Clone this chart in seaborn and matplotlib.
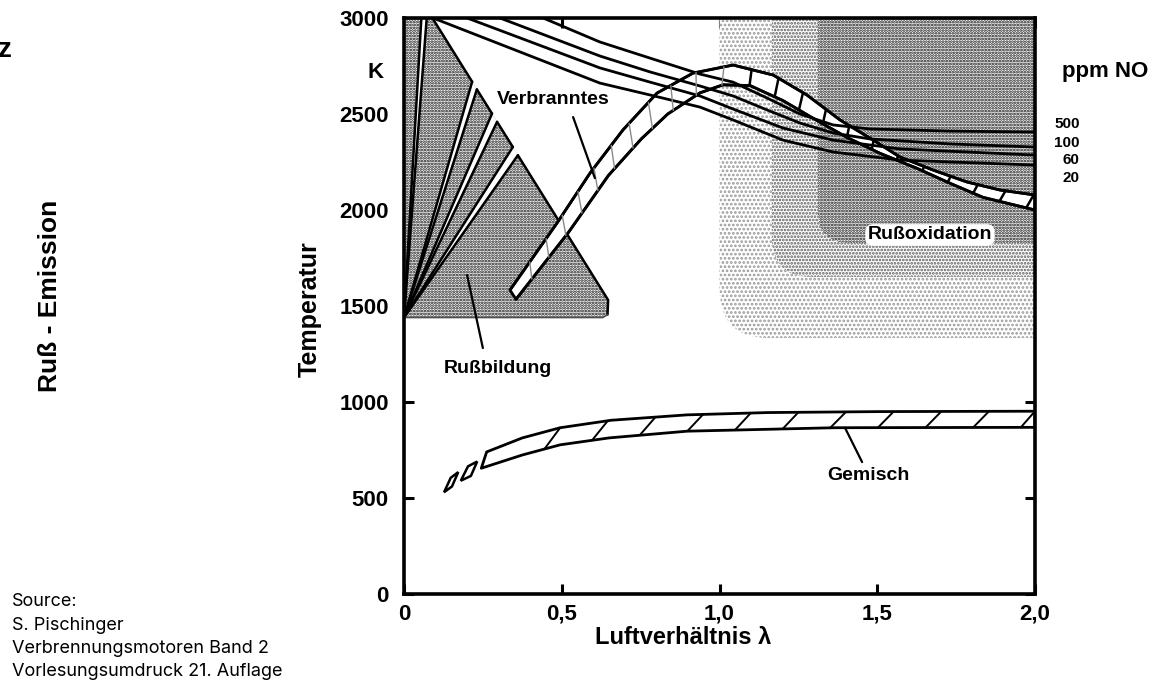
import numpy as np
import pandas as pd
import matplotlib
matplotlib.use("Agg")
import matplotlib.pyplot as plt
from matplotlib.patches import Polygon, FancyBboxPatch
from matplotlib.transforms import blended_transform_factory
import seaborn as sns

# ---------------- data: air ratio lambda (x) vs. temperature in K (y) ----------------
x_ticks = [0, 0.5, 1.0, 1.5, 2.0]
x_tick_labels = ["0", "0,5", "1,0", "1,5", "2,0"]
y_ticks = [0, 500, 1000, 1500, 2000, 2500, 3000]

# NO iso-lines (ppm)
no_labels = ["500", "100", "60", "20"]
no_label_T = [2448, 2349, 2260, 2166]
no500_lam = [0.441, 0.621, 0.780, 0.938, 1.043, 1.151, 1.255, 1.360, 1.477, 1.731, 2.0]
no500_T = [3000, 2875, 2791, 2708, 2666, 2583, 2500, 2443, 2422, 2411, 2406]
no100_lam = [0.304, 0.621, 0.780, 0.938, 1.043, 1.151, 1.255, 1.360, 1.477, 1.731, 2.0]
no100_T = [3000, 2802, 2719, 2646, 2594, 2521, 2453, 2401, 2370, 2344, 2328]
no60_lam = [0.200, 0.621, 0.780, 0.938, 1.043, 1.201, 1.360, 1.572, 2.0]
no60_T = [3000, 2740, 2666, 2594, 2526, 2427, 2364, 2318, 2286]
no20_lam = [0.092, 0.621, 0.780, 0.938, 1.043, 1.201, 1.360, 1.572, 2.0]
no20_T = [3000, 2661, 2599, 2536, 2469, 2364, 2302, 2260, 2234]

# burnt-gas temperature band ("Verbranntes")
burnt_outer_lam = [0.336, 0.485, 0.590, 0.694, 0.802, 0.916, 1.043, 1.170, 1.277,
                   1.382, 1.487, 1.572, 1.677, 1.784, 1.889, 2.0]
burnt_outer_T = [1583, 1932, 2193, 2417, 2609, 2713, 2755, 2703, 2599,
                 2469, 2364, 2276, 2208, 2146, 2104, 2078]
burnt_inner_lam = [0.355, 0.522, 0.648, 0.752, 0.836, 0.938, 1.011, 1.097, 1.201,
                   1.309, 1.404, 1.509, 1.626, 1.731, 1.835, 2.0]
burnt_inner_T = [1535, 1885, 2180, 2370, 2500, 2610, 2652, 2648, 2570,
                 2466, 2378, 2295, 2217, 2139, 2066, 2000]

# mixture temperature band ("Gemisch")
mix_upper_lam = [0.262, 0.375, 0.495, 0.657, 0.897, 1.152, 1.505, 2.0]
mix_upper_T = [740, 813, 866, 905, 933, 945, 950, 952]
mix_lower_lam = [0.245, 0.375, 0.495, 0.650, 0.897, 1.364, 2.0]
mix_lower_T = [655, 724, 777, 813, 848, 866, 868]
mix_cell1_lam = [0.127, 0.148, 0.172, 0.152]
mix_cell1_T = [530, 605, 635, 560]
mix_cell2_lam = [0.180, 0.203, 0.232, 0.212]
mix_cell2_T = [590, 665, 690, 615]

# soot formation zone ("Rußbildung") and its fan of rich-combustion strips
soot_form_lam = [0.0, 0.0, 0.090, 0.647, 0.645, 0.630]
soot_form_T = [1440, 3000, 3000, 1531, 1455, 1440]
fan_origin = (0.0, 1440)
fan_tip_lam = [(0.055, 0.072), (0.216, 0.231), (0.279, 0.295), (0.345, 0.361)]
fan_tip_T = [(3000, 3000), (2668, 2628), (2502, 2459), (2328, 2285)]

# soot oxidation zone ("Rußoxidation"): lower-left corners of the graded zones
ox_lam0 = [1.000, 1.166, 1.312]
ox_T0 = [1333, 1651, 1828]

# ---------------- styling ----------------
sns.set_style("ticks")
plt.rcParams["font.family"] = ["Liberation Sans", "DejaVu Sans"]
plt.rcParams["hatch.linewidth"] = 1.3
plt.rcParams["text.color"] = "black"
plt.rcParams["xtick.color"] = "black"
plt.rcParams["ytick.color"] = "black"
plt.rcParams["axes.labelcolor"] = "black"

PX_LAM = 315.5     # pixels per unit lambda
PX_K = 0.192       # pixels per Kelvin
ASPECT = PX_LAM / PX_K

fig = plt.figure(figsize=(11.72, 7.0), dpi=100)
ax = fig.add_axes([404 / 1172, 1 - 594 / 700, 631 / 1172, 576 / 700])
ax.set_xlim(0, 2.0)
ax.set_ylim(0, 3000)

# graded stipple of the oxidation zone
ox_style = [(50, "....", "#9a9a9a"), (40, ".....", "#5a5a5a"), (32, "......", "#101010")]
for (lam0, T0, (r_px, hatch, col), z) in zip(ox_lam0, ox_T0, ox_style, [1.0, 1.1, 1.2]):
    box = FancyBboxPatch((lam0, T0), 2.5 - lam0, 4200 - T0,
                         boxstyle=f"round,pad=0,rounding_size={r_px / PX_LAM}",
                         mutation_aspect=ASPECT, facecolor="white",
                         edgecolor=col, hatch=hatch, lw=0, zorder=z)
    ax.add_patch(box)

# soot formation zone
ax.add_patch(Polygon(np.column_stack([soot_form_lam, soot_form_T]), closed=True,
                     facecolor="white", edgecolor="#101010", hatch="......", lw=0, zorder=1.5))

# white fan strips from the common origin
for (la, lb), (ta, tb) in zip(fan_tip_lam, fan_tip_T):
    ax.add_patch(Polygon([fan_origin, (la, ta), (lb, tb)], closed=True,
                         facecolor="white", edgecolor="none", zorder=2))
    for lt, tt in [(la, ta), (lb, tb)]:
        ax.plot([fan_origin[0], lt], [fan_origin[1], tt], color="black", lw=1.8,
                zorder=2.2, solid_capstyle="round")

# outline of the soot formation zone, open where the strips leave it
hyp_lam = [soot_form_lam[2], fan_tip_lam[1][0], np.nan, fan_tip_lam[1][1], fan_tip_lam[2][0],
           np.nan, fan_tip_lam[2][1], fan_tip_lam[3][0], np.nan, fan_tip_lam[3][1],
           soot_form_lam[3], soot_form_lam[4]]
hyp_T = [soot_form_T[2], fan_tip_T[1][0], np.nan, fan_tip_T[1][1], fan_tip_T[2][0],
         np.nan, fan_tip_T[2][1], fan_tip_T[3][0], np.nan, fan_tip_T[3][1],
         soot_form_T[3], soot_form_T[4]]
ax.plot(hyp_lam, hyp_T, color="black", lw=1.8, zorder=2.2)
ax.plot(soot_form_lam[4:] + [0.0], soot_form_T[4:] + [1440], color="#505050", lw=1.2, zorder=2.2)

# NO iso-lines
no_df = pd.concat([
    pd.DataFrame({"lam": l, "T": t, "ppm": name})
    for name, l, t in zip(no_labels, [no500_lam, no100_lam, no60_lam, no20_lam],
                          [no500_T, no100_T, no60_T, no20_T])
])

# burnt-gas band
burnt_poly = np.column_stack([burnt_outer_lam + burnt_inner_lam[::-1],
                              burnt_outer_T + burnt_inner_T[::-1]])
ax.add_patch(Polygon(burnt_poly, closed=True, facecolor="white", edgecolor="black",
                     lw=2.0, zorder=3, joinstyle="round"))

sns.lineplot(data=no_df, x="lam", y="T", units="ppm", estimator=None, sort=False,
             color="black", lw=2.0, ax=ax, zorder=3.5, legend=False)

edge_df = pd.concat([
    pd.DataFrame({"lam": burnt_outer_lam, "T": burnt_outer_T, "edge": "outer"}),
    pd.DataFrame({"lam": burnt_inner_lam, "T": burnt_inner_T, "edge": "inner"}),
])
sns.lineplot(data=edge_df, x="lam", y="T", units="edge", estimator=None, sort=False,
             color="black", lw=2.0, ax=ax, zorder=4, legend=False)


def arc_param(lam, T):
    px = np.asarray(lam) * PX_LAM
    py = np.asarray(T) * PX_K
    d = np.r_[0, np.cumsum(np.hypot(np.diff(px), np.diff(py)))]
    return d / d[-1]


s_out = arc_param(burnt_outer_lam, burnt_outer_T)
s_in = arc_param(burnt_inner_lam, burnt_inner_T)
for s in np.arange(0.04, 0.99, 0.043):
    l0, t0 = np.interp(s, s_in, burnt_inner_lam), np.interp(s, s_in, burnt_inner_T)
    l1, t1 = np.interp(s + 0.012, s_out, burnt_outer_lam), np.interp(s + 0.012, s_out, burnt_outer_T)
    dark = l0 > 1.05
    ax.plot([l0, l1], [t0, t1], color="black" if dark else "#8a8a8a",
            lw=1.8 if dark else 1.0, zorder=4)

# mixture band
mix_poly = np.column_stack([mix_upper_lam + mix_lower_lam[::-1],
                            mix_upper_T + mix_lower_T[::-1]])
ax.add_patch(Polygon(mix_poly, closed=True, facecolor="white", edgecolor="black",
                     lw=2.0, zorder=3, joinstyle="round"))
for cl, ct in [(mix_cell1_lam, mix_cell1_T), (mix_cell2_lam, mix_cell2_T)]:
    ax.add_patch(Polygon(np.column_stack([cl, ct]), closed=True, facecolor="white",
                         edgecolor="black", lw=1.8, zorder=3))
for l0 in np.arange(0.445, 1.96, 0.151):
    t0 = np.interp(l0, mix_lower_lam, mix_lower_T)
    l1 = min(l0 + 0.05, 2.0)
    t1 = np.interp(l1, mix_upper_lam, mix_upper_T)
    ax.plot([l0, l1], [t0, t1], color="black", lw=1.4, zorder=4)

# region labels with leader lines
lab = dict(fontsize=14, fontweight="bold", ha="center", va="center", zorder=6)
ax.text(0.472, 2573, "Verbranntes", **lab)
ax.plot([0.536, 0.605], [2484, 2166], color="black", lw=1.6, zorder=5)
ax.text(0.298, 1177, "Rußbildung", **lab)
ax.plot([0.20, 0.25], [1661, 1281], color="black", lw=1.6, zorder=5)
ax.text(1.471, 615, "Gemisch", **lab)
ax.plot([1.398, 1.452], [865, 687], color="black", lw=1.6, zorder=5)
ax.text(1.667, 1870, "Rußoxidation", **lab,
        bbox=dict(boxstyle="round,pad=0.12,rounding_size=0.4", fc="white", ec="none"))

# NO labels right of the frame
tr = blended_transform_factory(ax.transAxes, ax.transData)
for name, t in zip(no_labels, no_label_T):
    ax.text(1.071, t, name, transform=tr, ha="right", va="center",
            fontsize=11, fontweight="bold", clip_on=False)
fig.text(1105 / 1172, 1 - 72 / 700, "ppm NO", ha="center", va="center",
         fontsize=16, fontweight="bold")

# axes, ticks and labels
ax.set_xticks(x_ticks)
ax.set_xticklabels(x_tick_labels)
ax.set_yticks(y_ticks)
ax.tick_params(direction="in", length=7, width=2.2, top=True, right=True,
               labelsize=16, color="black", labelcolor="black")
ax.tick_params(axis="x", pad=7)
ax.tick_params(axis="y", pad=11)
for t in ax.get_xticklabels() + ax.get_yticklabels():
    t.set_fontweight("bold")
for sp in ax.spines.values():
    sp.set_linewidth(2.6)
    sp.set_color("black")
    sp.set_zorder(10)
ax.set_xlabel("")
ax.set_ylabel("")

fig.text(376 / 1172, 1 - 72 / 700, "K", ha="center", va="center",
         fontsize=16, fontweight="bold")
fig.text(310 / 1172, 1 - 309 / 700, "Temperatur", rotation=90, ha="center", va="center",
         fontsize=18, fontweight="bold")
fig.text(683 / 1172, 1 - 637 / 700, "Luftverhältnis λ", ha="center", va="center",
         fontsize=17, fontweight="bold")
fig.text(50 / 1172, 1 - 296 / 700, "Ruß - Emission", rotation=90, ha="center", va="center",
         fontsize=19, fontweight="bold")
fig.text(-2 / 1172, 1 - 50 / 700, "z", ha="left", va="center", fontsize=20, fontweight="bold")

source_lines = ["Source:", "S. Pischinger", "Verbrennungsmotoren Band 2",
                "Vorlesungsumdruck 21. Auflage"]
for i, line in enumerate(source_lines):
    fig.text(12 / 1172, 1 - (602 + 23.3 * i) / 700, line, ha="left", va="center",
             fontsize=13, family=["Inter", "DejaVu Sans"])

fig.savefig("out.png", dpi=100)
